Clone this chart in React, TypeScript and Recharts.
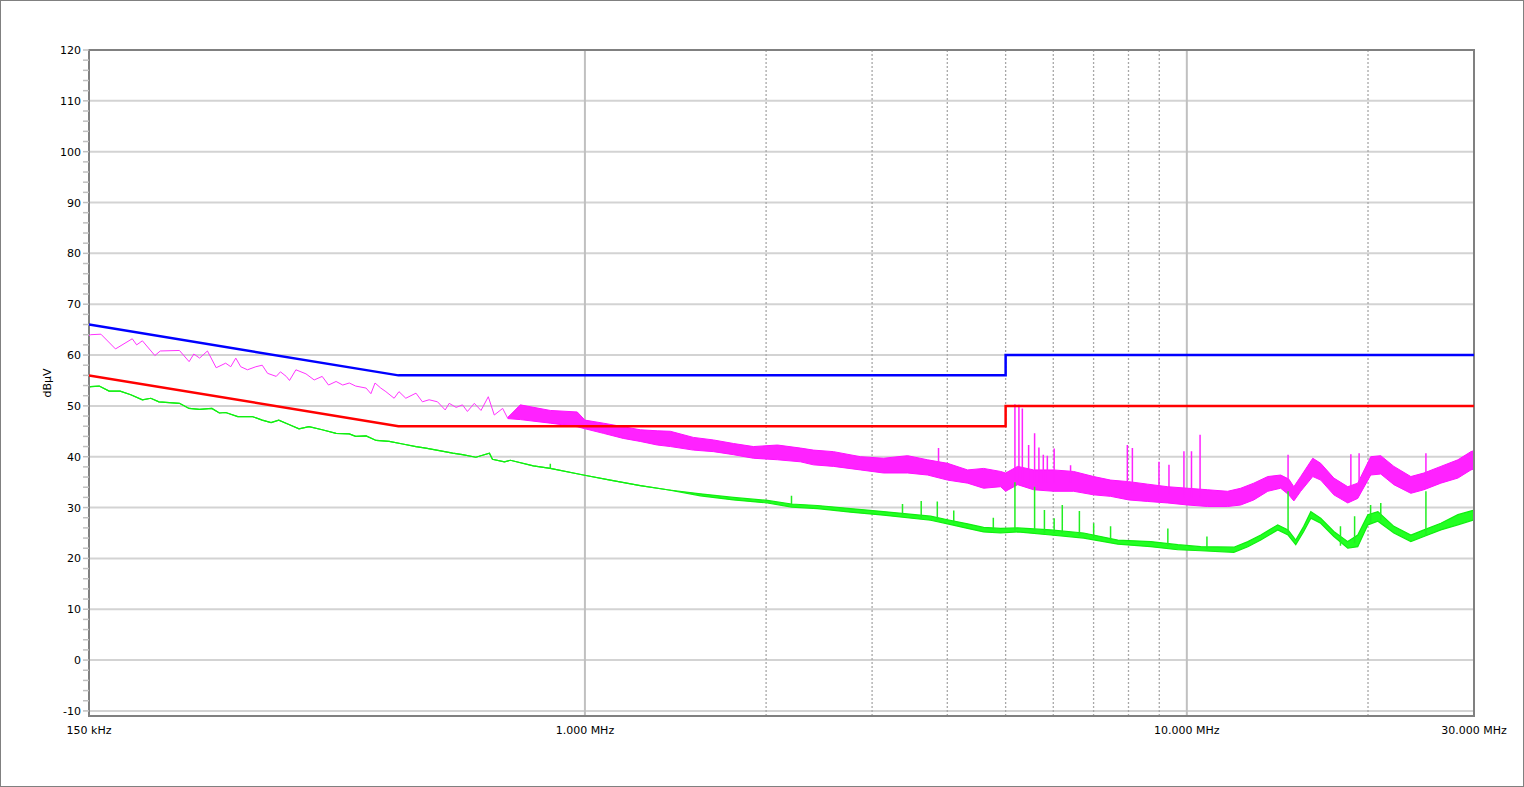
import { ComposedChart, Line, Area, XAxis, YAxis, CartesianGrid, ReferenceArea } from 'recharts'

// frequencies in MHz, levels in dBµV
const xTicks = [0.15, 1, 10, 30]
const xLabels = ['150 kHz', '1.000 MHz', '10.000 MHz', '30.000 MHz']
const yTicks = [
  -10, -8, -6, -4, -2, 0, 2, 4, 6, 8, 10, 12, 14, 16, 18, 20, 22, 24, 26, 28, 30, 32, 34, 36, 38, 40,
  42, 44, 46, 48, 50, 52, 54, 56, 58, 60, 62, 64, 66, 68, 70, 72, 74, 76, 78, 80, 82, 84, 86, 88, 90,
  92, 94, 96, 98, 100, 102, 104, 106, 108, 110, 112, 114, 116, 118, 120,
]
const yMajor = [-10, 0, 10, 20, 30, 40, 50, 60, 70, 80, 90, 100, 110, 120]
const gridSolid = [1, 10]
const gridDashed = [2, 3, 4, 5, 6, 7, 8, 9, 20]

// limit lines
const limitFreq = [0.15, 0.49, 5, 5, 30]
const qpLimit = [66, 56, 56, 60, 60]
const avLimit = [56, 46, 46, 50, 50]

// peak trace, low band (thin line)
const pkLineFreq = [
  0.15, 0.151, 0.157, 0.166, 0.177, 0.18, 0.184, 0.193, 0.197, 0.212, 0.22, 0.224, 0.229, 0.236, 0.244,
  0.253, 0.258, 0.263, 0.268, 0.275, 0.284, 0.291, 0.297, 0.307, 0.312, 0.319, 0.323, 0.331, 0.344,
  0.355, 0.366, 0.375, 0.386, 0.396, 0.406, 0.416, 0.433, 0.441, 0.448, 0.458, 0.467, 0.482, 0.491,
  0.504, 0.524, 0.537, 0.551, 0.569, 0.586, 0.595, 0.611, 0.626, 0.638, 0.655, 0.672, 0.691, 0.707,
  0.73, 0.744,
]
const pkLineVal = [
  63.8, 64.0, 64.1, 61.2, 63.2, 62.0, 62.8, 59.9, 60.8, 60.9, 58.7, 60.2, 59.4, 60.8, 57.5,
  58.4, 57.7, 59.4, 57.7, 57.1, 57.7, 58.0, 56.4, 55.8, 56.7, 55.8, 55.0, 57.1, 56.3,
  55.1, 55.8, 54.1, 54.8, 54.1, 54.5, 53.9, 53.5, 52.4, 54.5, 53.5, 52.8, 51.5, 52.8,
  51.5, 52.5, 50.8, 51.2, 50.8, 49.2, 50.5, 49.7, 50.2, 48.9, 50.5, 49.1, 51.8, 48.2,
  49.5, 47.6,
]

// peak trace, dense part (envelope low / high)
const pkBandFreq = [
  0.744, 0.781, 0.876, 0.971, 1.0, 1.073, 1.158, 1.236, 1.319, 1.387, 1.514, 1.635, 1.765, 1.905,
  2.089, 2.281, 2.397, 2.588, 2.87, 3.134, 3.436, 3.709, 4.004, 4.323, 4.596, 4.905, 5.0, 5.235,
  5.565, 6.008, 6.486, 7.002, 7.473, 8.006, 8.61, 9.294, 10.03, 10.83, 11.69, 12.29, 12.92, 13.63,
  14.32, 14.77, 15.06, 15.46, 16.19, 16.69, 17.55, 18.51, 19.23, 20.21, 21.0, 22.08, 23.56, 24.77,
  26.43, 28.21, 29.65, 30.0,
]
const pkBandLo = [
  47.5, 47.3, 46.6, 45.9, 45.5, 44.6, 43.6, 43.0, 42.3, 42.0, 41.3, 41.0, 40.4, 39.7,
  39.4, 39.0, 38.4, 38.1, 37.4, 36.8, 36.8, 36.4, 35.4, 34.8, 33.8, 34.1, 33.2, 34.5,
  33.5, 33.2, 33.2, 32.5, 32.2, 31.5, 31.2, 30.9, 30.5, 30.2, 30.2, 30.5, 31.5, 33.2,
  33.8, 32.5, 31.3, 33.2, 36.1, 35.4, 32.5, 30.9, 31.8, 36.4, 36.6, 34.5, 32.8, 33.5,
  34.8, 35.8, 37.4, 37.6,
]
const pkBandHi = [
  47.7, 50.2, 49.1, 48.8, 47.2, 46.6, 45.9, 45.3, 45.1, 45.0, 43.8, 43.3, 42.6, 42.0,
  42.3, 41.7, 41.3, 41.0, 40.0, 39.7, 40.2, 39.4, 38.7, 37.4, 37.7, 37.1, 36.8, 38.1,
  37.4, 37.4, 37.1, 36.1, 35.4, 35.1, 34.6, 34.1, 33.8, 33.5, 33.2, 33.8, 34.8, 36.1,
  36.4, 35.6, 34.1, 36.1, 39.7, 38.7, 35.8, 34.1, 34.8, 40.0, 40.2, 38.1, 36.1, 36.8,
  38.1, 39.4, 41.0, 41.2,
]
const pkSpikeFreq = [
  3.868, 5.181, 5.261, 5.33, 5.46, 5.586, 5.679, 5.775, 5.865, 6.02, 6.41, 7.965, 8.12, 8.99,
  9.34, 9.89, 10.18, 10.52, 14.73, 18.73, 19.33, 24.96,
]
const pkSpikeBase = [
  38.0, 35.0, 35.0, 35.0, 35.0, 35.0, 35.0, 35.0, 35.0, 35.0, 35.0, 33.0, 33.0, 32.5,
  32.5, 32.0, 32.0, 32.0, 34.5, 33.0, 33.0, 35.0,
]
const pkSpikeTop = [
  41.7, 50.3, 50.2, 49.5, 42.3, 44.6, 41.8, 40.4, 40.2, 41.6, 38.3, 42.3, 41.7, 39.0,
  38.4, 41.1, 41.1, 44.3, 40.4, 40.5, 40.7, 40.7,
]

// average trace (envelope low / high)
const avFreq = [
  0.15, 0.151, 0.156, 0.162, 0.169, 0.176, 0.184, 0.19, 0.196, 0.212, 0.22, 0.229, 0.24, 0.247,
  0.253, 0.265, 0.28, 0.291, 0.301, 0.31, 0.323, 0.335, 0.348, 0.366, 0.386, 0.406, 0.416, 0.433,
  0.45, 0.473, 0.498, 0.524, 0.544, 0.573, 0.603, 0.626, 0.659, 0.694, 0.702, 0.735, 0.752, 0.821,
  0.876, 0.994, 1.102, 1.236, 1.371, 1.556, 1.765, 2.01, 2.204, 2.434, 2.762, 3.134, 3.752, 4.004,
  4.323, 4.596, 4.905, 5.235, 5.94, 6.74, 7.68, 8.71, 9.66, 10.55, 11.97, 12.63, 13.27, 14.16,
  14.73, 15.17, 15.64, 16.07, 16.69, 17.55, 18.51, 19.23, 19.99, 20.77, 22.08, 23.56, 24.77, 26.43,
  28.21, 30.0,
]
const avLo = [
  53.6, 53.8, 53.9, 52.9, 52.9, 52.2, 51.2, 51.5, 50.8, 50.5, 49.5, 49.3, 49.5, 48.6,
  48.7, 47.9, 47.9, 47.2, 46.7, 47.2, 46.3, 45.5, 45.9, 45.3, 44.6, 44.5, 44.0, 44.1,
  43.2, 43.0, 42.5, 42.0, 41.7, 41.2, 40.7, 40.4, 39.9, 40.7, 39.5, 39.0, 39.3, 38.2,
  37.7, 36.4, 35.4, 34.3, 33.5, 32.3, 31.5, 30.9, 30.1, 29.8, 29.1, 28.5, 27.5, 26.8,
  25.9, 25.2, 25.0, 25.2, 24.6, 24.0, 22.8, 22.3, 21.7, 21.5, 21.2, 22.3, 23.6, 25.6,
  24.6, 22.7, 25.3, 27.9, 26.9, 24.3, 22.0, 22.3, 26.6, 27.3, 25.0, 23.3, 24.3, 25.6,
  26.6, 27.6,
]
const avHi = [
  53.6, 53.8, 53.9, 52.9, 52.9, 52.2, 51.2, 51.5, 50.8, 50.5, 49.5, 49.3, 49.5, 48.6,
  48.7, 47.9, 47.9, 47.2, 46.7, 47.2, 46.3, 45.5, 45.9, 45.3, 44.6, 44.5, 44.0, 44.1,
  43.2, 43.0, 42.5, 42.0, 41.7, 41.2, 40.7, 40.4, 39.9, 40.7, 39.5, 39.0, 39.3, 38.2,
  37.7, 36.4, 35.4, 34.3, 33.5, 32.7, 32.0, 31.4, 30.7, 30.4, 29.8, 29.2, 28.3, 27.6,
  26.8, 26.1, 25.9, 26.0, 25.6, 25.0, 23.6, 23.3, 22.7, 22.3, 22.2, 23.3, 24.6, 26.6,
  25.6, 23.6, 26.3, 29.2, 27.9, 25.3, 23.3, 24.6, 28.6, 29.2, 26.3, 24.6, 25.6, 26.9,
  28.6, 29.5,
]
const avSpikeFreq = [
  0.876, 2.204, 3.37, 3.62, 3.85, 4.1, 4.77, 5.181, 5.586, 5.8, 6.02, 6.21, 6.63, 7.002,
  7.47, 9.3, 10.8, 14.73, 18.0, 19.0, 20.2, 21.0, 24.96,
]
const avSpikeBase = [
  37.7, 30.5, 28.5, 28.0, 27.6, 27.0, 25.7, 25.5, 25.5, 25.0, 25.0, 25.0, 24.5, 24.0,
  23.5, 22.5, 21.8, 25.0, 22.5, 23.0, 27.0, 27.5, 24.5,
]
const avSpikeTop = [
  38.6, 32.3, 30.7, 31.3, 31.2, 29.4, 28.0, 35.0, 34.1, 29.5, 27.9, 30.5, 29.3, 26.9,
  26.3, 25.9, 24.3, 33.2, 26.3, 28.3, 30.5, 30.9, 33.2,
]

const FONT = 'DejaVu Sans'

const toLine = (fs: number[], vs: number[]) => fs.map((f, i) => ({ f, v: vs[i] }))
const toBand = (fs: number[], lo: number[], hi: number[]) =>
  fs.map((f, i) => ({ f, range: [lo[i], hi[i]] }))
// vertical spikes, separated by nulls so each one is its own segment
const toSpikes = (fs: number[], base: number[], top: number[]) =>
  fs.flatMap((f, i) => [
    { f, v: base[i] },
    { f, v: top[i] },
    { f, v: null },
  ])

const qpData = toLine(limitFreq, qpLimit)
const avLimData = toLine(limitFreq, avLimit)
const pkLineData = toLine(pkLineFreq, pkLineVal)
const pkBandData = toBand(pkBandFreq, pkBandLo, pkBandHi)
const pkSpikeData = toSpikes(pkSpikeFreq, pkSpikeBase, pkSpikeTop)
const avData = toBand(avFreq, avLo, avHi)
const avSpikeData = toSpikes(avSpikeFreq, avSpikeBase, avSpikeTop)

const YTick = ({ x, y, payload }: any) => {
  if (payload.value % 10 !== 0) return <g />
  return (
    <text x={x} y={y} dy={4} textAnchor="end" fontSize={11} fontFamily={FONT} fill="#000">
      {payload.value}
    </text>
  )
}

export default function App() {
  return (
    <div style={{ position: 'absolute', left: 0, top: 0, width: 1524, height: 787, background: '#fff' }}>
      <ComposedChart width={1524} height={787} margin={{ top: 50, right: 50, bottom: 41, left: 0 }}>
        <CartesianGrid vertical={false} horizontalValues={yMajor} stroke="#d3d3d3" strokeWidth={2} />
        <CartesianGrid horizontal={false} verticalValues={gridSolid} stroke="#c0c0c0" strokeWidth={2} />
        <CartesianGrid
          horizontal={false}
          verticalValues={gridDashed}
          stroke="#a8a8a8"
          strokeWidth={1.3}
          strokeDasharray="2 2"
        />
        <XAxis
          type="number"
          dataKey="f"
          scale="log"
          domain={[0.15, 30]}
          allowDataOverflow
          ticks={xTicks}
          interval={0}
          tickFormatter={(v: number) => xLabels[xTicks.indexOf(v)] ?? ''}
          tick={{ fontSize: 11, fontFamily: FONT, fill: '#000' }}
          tickLine={false}
          axisLine={false}
          tickSize={6}
          tickMargin={4}
          height={30}
        />
        <YAxis
          type="number"
          domain={[-11, 120]}
          allowDataOverflow
          ticks={yTicks}
          interval={0}
          width={89}
          tick={<YTick />}
          tickLine={{ stroke: '#c0c0c0', strokeWidth: 1.5 }}
          tickSize={6}
          tickMargin={2}
          axisLine={false}
          label={{
            value: 'dBµV',
            angle: -90,
            position: 'center',
            dx: 3,
            fontSize: 11,
            fontFamily: FONT,
            fill: '#000',
          }}
        />
        <Line
          data={pkLineData}
          dataKey="v"
          stroke="#ff33ff"
          strokeWidth={1}
          dot={false}
          activeDot={false}
          isAnimationActive={false}
        />
        <Area
          data={pkBandData}
          dataKey="range"
          stroke="#ff11ff"
          strokeWidth={1}
          fill="#ff22ff"
          fillOpacity={1}
          dot={false}
          activeDot={false}
          isAnimationActive={false}
        />
        <Line
          data={pkSpikeData}
          dataKey="v"
          stroke="#ff22ff"
          strokeWidth={1.5}
          dot={false}
          activeDot={false}
          connectNulls={false}
          isAnimationActive={false}
        />
        <Area
          data={avData}
          dataKey="range"
          stroke="#11ee11"
          strokeWidth={1.2}
          fill="#22ff22"
          fillOpacity={1}
          dot={false}
          activeDot={false}
          isAnimationActive={false}
        />
        <Line
          data={avSpikeData}
          dataKey="v"
          stroke="#22ee22"
          strokeWidth={1.5}
          dot={false}
          activeDot={false}
          connectNulls={false}
          isAnimationActive={false}
        />
        <Line
          data={qpData}
          dataKey="v"
          stroke="#0000ff"
          strokeWidth={2.5}
          dot={false}
          activeDot={false}
          isAnimationActive={false}
        />
        <Line
          data={avLimData}
          dataKey="v"
          stroke="#ff0000"
          strokeWidth={2.5}
          dot={false}
          activeDot={false}
          isAnimationActive={false}
        />
        <ReferenceArea
          x1={0.15}
          x2={30}
          y1={-11}
          y2={120}
          fill="none"
          fillOpacity={0}
          stroke="#808080"
          strokeWidth={2}
          ifOverflow="visible"
        />
      </ComposedChart>
      <div
        style={{
          position: 'absolute',
          inset: 0,
          border: '1px solid #808080',
          pointerEvents: 'none',
        }}
      />
    </div>
  )
}
